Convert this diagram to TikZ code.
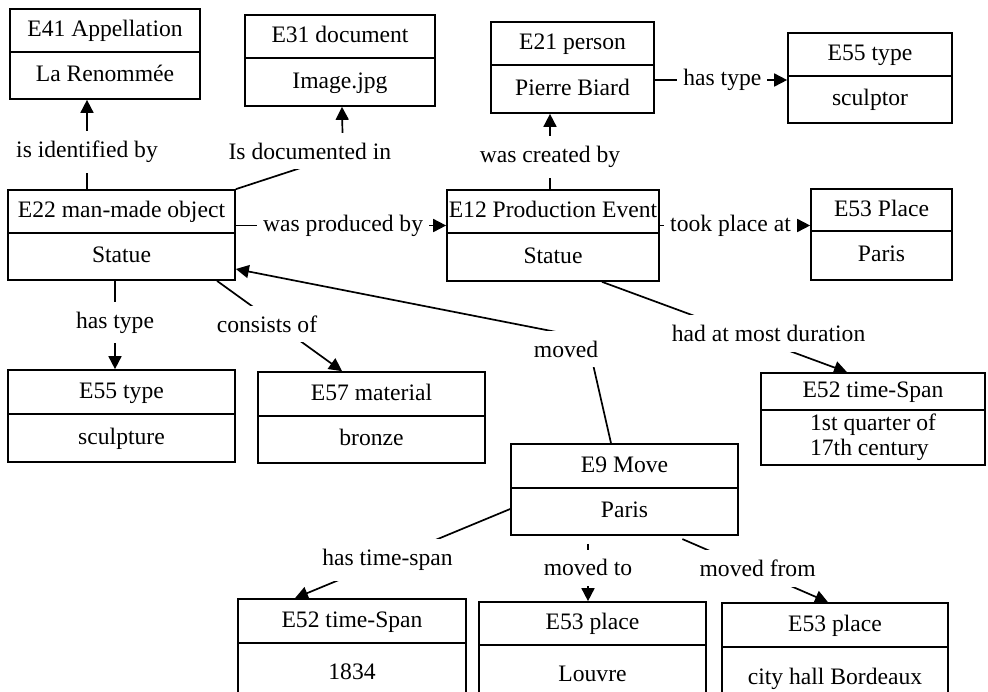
\documentclass[tikz,border=0pt]{standalone}
\usepackage{fontspec}
\setmainfont{Liberation Serif}
\usetikzlibrary{arrows.meta,calc}

\begin{document}
\begin{tikzpicture}[x=0.5pt, y=-0.5pt,
    box/.style={rectangle, draw, line width=0.85pt, inner sep=0pt,
        font=\fontsize{11.8}{12.5}\selectfont},
    cell/.style={box, text height=8.5pt, text depth=2.5pt},
    lab/.style={fill=white, inner xsep=3pt, inner ysep=5pt,
        font=\fontsize{11.8}{14}\selectfont},
    arr/.style={-{Triangle[length=6.5pt, width=6.5pt]}, line width=0.85pt}
]
    \useasboundingbox (0,0) rectangle (988,691);
    \clip (0,0) rectangle (988,691);

    % top row
    \node[cell, minimum width=95pt, minimum height=21.5pt] (app) at (105,30.5) {E41 Appellation};
    \node[cell, minimum width=95pt, minimum height=23.5pt] (appv) at (105,75.5) {La Renommée};
    \node[cell, minimum width=95pt, minimum height=21.5pt] (doc) at (340,36.5) {E31 document};
    \node[cell, minimum width=95pt, minimum height=24pt] (docv) at (340,82) {Image.jpg};
    \node[cell, minimum width=81.5pt, minimum height=21.5pt] (pers) at (572.5,43.5) {E21 person};
    \node[cell, minimum width=81.5pt, minimum height=24pt] (persv) at (572.5,89) {Pierre Biard};
    \node[cell, minimum width=82pt, minimum height=21.5pt] (ptype) at (870,54.5) {E55 type};
    \node[cell, minimum width=82pt, minimum height=23.5pt] (ptypev) at (870,99.5) {sculptor};

    % middle row
    \node[cell, minimum width=113.5pt, minimum height=21.5pt] (obj) at (121.5,211.5) {E22 man-made object};
    \node[cell, minimum width=113.5pt, minimum height=23.5pt] (objv) at (121.5,256.5) {Statue};
    \node[cell, minimum width=106pt, minimum height=21.5pt] (prod) at (553,211.5) {E12 Production Event};
    \node[cell, minimum width=106pt, minimum height=24pt] (prodv) at (553,257) {Statue};
    \node[cell, minimum width=70.5pt, minimum height=21pt] (pplace) at (881.5,210) {E53 Place};
    \node[cell, minimum width=70.5pt, minimum height=24.5pt] (pplacev) at (881.5,255.5) {Paris};

    % lower rows
    \node[cell, minimum width=113.5pt, minimum height=22pt] (otype) at (121.5,392) {E55 type};
    \node[cell, minimum width=113.5pt, minimum height=24pt] (otypev) at (121.5,438) {sculpture};
    \node[cell, minimum width=113.5pt, minimum height=22pt] (mat) at (371.5,394) {E57 material};
    \node[cell, minimum width=113.5pt, minimum height=23.5pt] (matv) at (371.5,439.5) {bronze};
    \node[cell, minimum width=112pt, minimum height=18.5pt] (dur) at (873,391.5) {E52 time-Span};
    \node[box, minimum width=112pt, minimum height=27.5pt, align=left] (durv) at (873,437.5) {1st quarter of\\17th century};
    \node[cell, minimum width=113.5pt, minimum height=22pt] (move) at (624.5,466) {E9 Move};
    \node[cell, minimum width=113.5pt, minimum height=23.5pt] (movev) at (624.5,511.5) {Paris};
    \node[cell, minimum width=114pt, minimum height=22pt] (mspan) at (352,621) {E52 time-Span};
    \node[cell, minimum width=114pt, minimum height=30pt] (mspanv) at (352,673) {1834};
    \node[cell, minimum width=113.5pt, minimum height=21.5pt] (mto) at (592.5,623.5) {E53 place};
    \node[cell, minimum width=113.5pt, minimum height=30pt] (mtov) at (592.5,675) {Louvre};
    \node[cell, minimum width=113pt, minimum height=22pt] (mfrom) at (835,625) {E53 place};
    \node[cell, minimum width=113pt, minimum height=31pt] (mfromv) at (835,678) {city hall Bordeaux};

    % links
    \draw[arr] ([xshift=-17.25pt]obj.north) -- node[lab, pos=0.42] {is identified by} ([xshift=-9pt]appv.south);
    \draw[arr] (obj.north east) -- ++(107,-35) node[lab, xshift=-16.5pt, yshift=1.5pt] {Is documented in}
        -- ([xshift=1pt]docv.south);
    \draw[arr] ([yshift=-7pt]obj.east) -- node[lab, pos=0.51] {was produced by} ([yshift=-7pt]prod.west);
    \draw[arr] ([yshift=-7pt]prod.east) -- node[lab, pos=0.47] {took place at} ([yshift=-7.75pt]pplace.west);
    \draw[arr] ([xshift=-1.5pt]prod.north) -- node[lab, pos=0.43] {was created by} ([xshift=-11.25pt]persv.south);
    \draw[arr] ([yshift=4.5pt]persv.east) -- node[lab, pos=0.51] {has type} ([yshift=9.75pt]ptypev.west);
    \draw[arr] ([xshift=24.5pt]prodv.south) -- node[lab, pos=0.68, yshift=5pt] {had at most duration} ([xshift=-13pt]dur.north);
    \draw[arr] ([xshift=-3.25pt]objv.south) -- node[lab, pos=0.47] {has type} ([xshift=-3.25pt]otype.north);
    \draw[arr] ([xshift=47.75pt]objv.south) -- node[lab, pos=0.4, yshift=-3.5pt] {consists of} ([xshift=-14.75pt]mat.north);

    \coordinate (bend) at (587,338);
    \draw[arr] ([xshift=-6.75pt]move.north) -- (bend) node[lab, xshift=-10.5pt, yshift=-5.5pt] {moved}
        -- ([yshift=-6.25pt]objv.east);
    \draw[arr] ([yshift=1.25pt]movev.west) -- node[lab, pos=0.57] {has time-span} ([xshift=-28.5pt]mspan.north);
    \draw[arr, shorten <=4pt] ([xshift=-18.25pt]movev.south) -- node[lab, pos=0.49] {moved to} ([xshift=-2.25pt]mto.north);
    \draw[arr, shorten <=4pt] ([xshift=25.25pt]movev.south) -- node[lab, pos=0.54, yshift=1.5pt] {moved from} ([xshift=-3.5pt]mfrom.north);
\end{tikzpicture}
\end{document}
